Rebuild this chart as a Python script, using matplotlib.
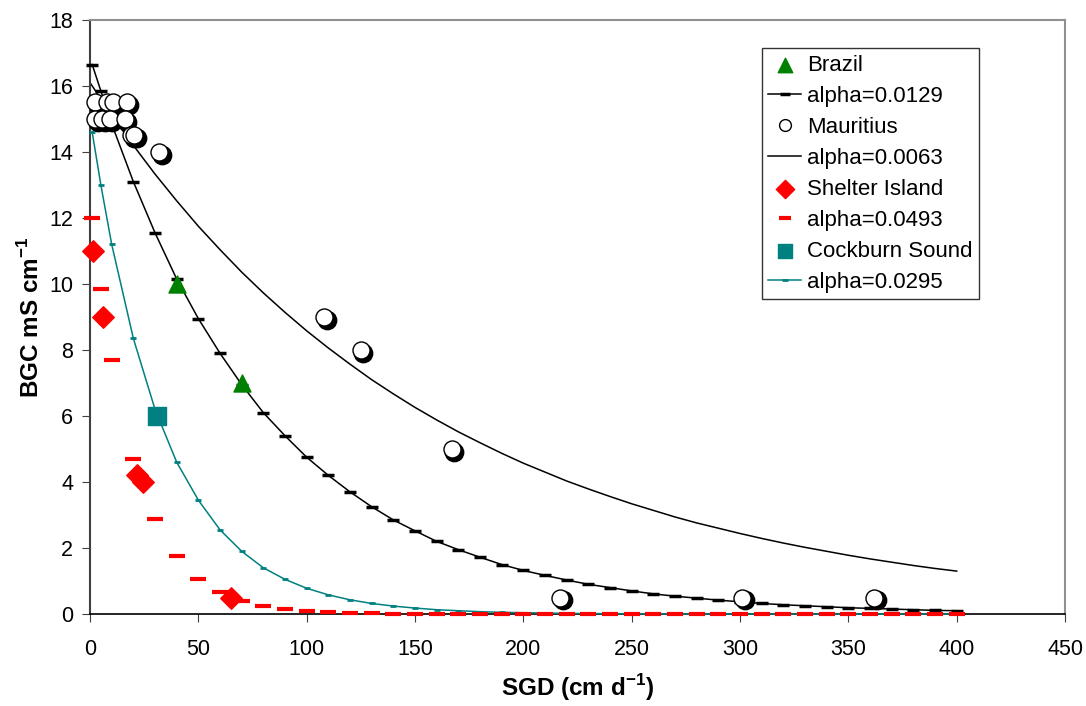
import matplotlib.pyplot as plt

plt.rcParams['font.family'] = ['Liberation Sans', 'DejaVu Sans']

# measured points
brazil_x = [40, 70]
brazil_y = [10, 7]

mauritius_x = [2.5, 8, 10.5, 17, 2.5, 5.5, 9, 16, 19, 20.5, 32, 108, 125, 167, 217, 301, 362]
mauritius_y = [15.5, 15.5, 15.5, 15.5, 15, 15, 15, 15, 14.5, 14.5, 14, 9, 8, 5, 0.5, 0.5, 0.5]

shelter_x = [1.5, 6, 21.5, 24.5, 65]
shelter_y = [11, 9, 4.2, 4.0, 0.5]

cockburn_x = [31]
cockburn_y = [6]

# fitted curves
fit_x = [1, 5] + list(range(10, 401, 10))
brazil_fit = [16.65, 15.85, 14.85, 13.1, 11.55, 10.15, 8.95, 7.9, 6.95, 6.1, 5.4, 4.75,
              4.2, 3.7, 3.25, 2.85, 2.52, 2.2, 1.95, 1.72, 1.5, 1.32, 1.17, 1.03, 0.9,
              0.8, 0.7, 0.61, 0.54, 0.48, 0.42, 0.37, 0.32, 0.28, 0.25, 0.22, 0.19,
              0.17, 0.15, 0.13, 0.11, 0.1]
shelter_fit = [12.0, 9.85, 7.7, 4.7, 2.87, 1.76, 1.07, 0.66, 0.4, 0.24, 0.15, 0.09, 0.055,
               0.033, 0.02, 0.012, 0.007, 0.004, 0.003, 0.002, 0.001, 0, 0, 0, 0, 0, 0,
               0, 0, 0, 0, 0, 0, 0, 0, 0, 0, 0, 0, 0, 0, 0]
cockburn_fit = [14.6, 13.0, 11.2, 8.35, 6.2, 4.6, 3.45, 2.55, 1.9, 1.4, 1.05, 0.78, 0.58,
                0.43, 0.32, 0.24, 0.18, 0.13, 0.1, 0.07, 0.05, 0.04, 0.03, 0.02, 0.015,
                0.011, 0.008, 0.006, 0.004, 0.003, 0.002, 0.002, 0.001, 0.001, 0, 0, 0,
                0, 0, 0, 0, 0]
mauritius_fit_x = [0] + list(range(10, 401, 10))
mauritius_fit = [16.1, 15.12, 14.2, 13.33, 12.52, 11.75, 11.04, 10.36, 9.73, 9.14, 8.58,
                 8.06, 7.57, 7.1, 6.67, 6.26, 5.88, 5.52, 5.19, 4.87, 4.57, 4.3, 4.03,
                 3.79, 3.56, 3.34, 3.14, 2.94, 2.76, 2.6, 2.44, 2.29, 2.15, 2.02, 1.9,
                 1.78, 1.67, 1.57, 1.47, 1.38, 1.3]

fig = plt.figure(figsize=(10.86, 7.06), dpi=100)
ax = fig.add_axes([0.0829, 0.1303, 0.8978, 0.8414])

teal = '#008080'

h_mau_fit, = ax.plot(mauritius_fit_x, mauritius_fit, color='black', lw=1.1, zorder=2,
                     clip_on=False)
h_bra_fit, = ax.plot(fit_x, brazil_fit, color='black', lw=1.1, marker='_', ms=8, mew=2.5,
                     zorder=3, clip_on=False)
h_coc_fit, = ax.plot(fit_x, cockburn_fit, color=teal, lw=1.1, marker='_', ms=5, mew=2,
                     zorder=3, clip_on=False)
h_she_fit, = ax.plot(fit_x, shelter_fit, ls='none', color='red', marker='_', ms=11, mew=3,
                     zorder=4, clip_on=False)

# circles with a dark shadow behind
ax.scatter([x + 1.2 for x in mauritius_x], [y - 0.09 for y in mauritius_y], s=175,
           c='black', edgecolors='black', zorder=5, clip_on=False)
h_mau = ax.scatter(mauritius_x, mauritius_y, s=150, c='white', edgecolors='black',
                   linewidths=1.0, zorder=6, clip_on=False)
h_bra = ax.scatter(brazil_x, brazil_y, s=150, marker='^', c='green', zorder=6, clip_on=False)
h_she = ax.scatter(shelter_x, shelter_y, s=120, marker='D', c='red', zorder=6, clip_on=False)
h_coc = ax.scatter(cockburn_x, cockburn_y, s=150, marker='s', c=teal, zorder=6, clip_on=False)

ax.set_xlim(0, 450)
ax.set_ylim(0, 18)
ax.set_xticks(range(0, 451, 50))
ax.set_yticks(range(0, 19, 2))
ax.tick_params(direction='out', length=6, labelsize=15.5, color='#404040')
ax.tick_params(axis='x', pad=12)
ax.tick_params(axis='y', pad=6)

for side in ['top', 'right']:
    ax.spines[side].set_color('#909090')
    ax.spines[side].set_linewidth(1.5)
ax.spines['left'].set_color('#404040')
ax.spines['left'].set_linewidth(1.5)
ax.spines['bottom'].set_color('black')
ax.spines['bottom'].set_linewidth(1.2)

ax.set_xlabel('SGD (cm d$^{\\mathregular{-1}}$)', fontsize=17.5, fontweight='bold', labelpad=9)
ax.set_ylabel('BGC mS cm$^{\\mathregular{-1}}$', fontsize=17.5, fontweight='bold', labelpad=4)

h_mau_leg = plt.Line2D([], [], ls='none', marker='o', ms=10, mfc='white', mec='black')
leg = ax.legend([h_bra, h_bra_fit, h_mau_leg, h_mau_fit, h_she, h_she_fit, h_coc, h_coc_fit],
                ['Brazil', 'alpha=0.0129', 'Mauritius', 'alpha=0.0063',
                 'Shelter Island', 'alpha=0.0493', 'Cockburn Sound', 'alpha=0.0295'],
                loc='upper left', bbox_to_anchor=(0.689, 0.953), fontsize=16,
                frameon=True, fancybox=False, edgecolor='black', borderpad=0.3,
                borderaxespad=0, labelspacing=0.45, handlelength=1.45,
                handletextpad=0.28, markerscale=0.85)
leg.get_frame().set_linewidth(1.0)

fig.savefig('out.png', dpi=100)
